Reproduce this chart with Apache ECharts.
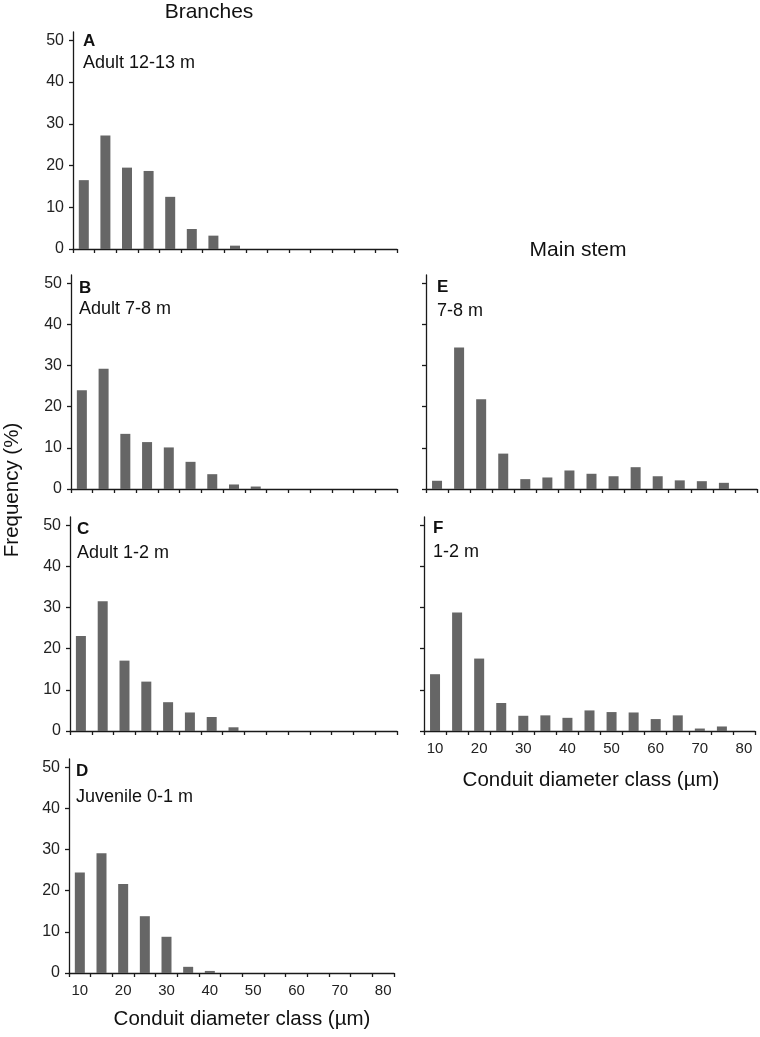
<!DOCTYPE html>
<html>
<head>
<meta charset="utf-8">
<script src="https://cdn.jsdelivr.net/npm/echarts@6/dist/echarts.min.js"></script>
<style>html,body{margin:0;padding:0;background:#fff}#c{width:760px;height:1037px}</style>
</head>
<body>
<div id="c"></div>
<script>
const categories = ['10','15','20','25','30','35','40','45','50','55','60','65','70','75','80'];
const yTickValues = [0,10,20,30,40,50];
const valuesA = [16.5,27.2,19.5,18.7,12.5,4.8,3.2,0.8,0,0,0,0,0,0,0];
const valuesB = [24.0,29.2,13.4,11.4,10.1,6.6,3.6,1.1,0.6,0,0,0,0,0,0];
const valuesC = [23.1,31.5,17.1,12.0,7.0,4.5,3.4,0.9,0,0,0,0,0,0,0];
const valuesD = [24.4,29.1,21.6,13.8,8.8,1.5,0.5,0,0,0,0,0,0,0,0];
const valuesE = [2.0,34.4,21.8,8.6,2.4,2.8,4.5,3.7,3.1,5.3,3.1,2.1,1.9,1.5,0];
const valuesF = [13.8,28.8,17.6,6.8,3.7,3.8,3.2,5.0,4.6,4.5,2.9,3.8,0.6,1.1,0];
const panelLetters = ['A','B','C','D','E','F'];
const panelLabels = ['Adult 12-13 m','Adult 7-8 m','Adult 1-2 m','Juvenile 0-1 m','7-8 m','1-2 m'];
const groupTitles = ['Branches','Main stem'];
const xAxisTitle = 'Conduit diameter class (µm)';
const yAxisTitle = 'Frequency (%)';

const FONT = '"Liberation Sans", Arial, Helvetica, sans-serif';
const series = [valuesA,valuesB,valuesC,valuesD,valuesE,valuesF];
// layout: [left, top, width, height]
const grids = [
  [73, 32, 324, 217],
  [71, 275, 326, 214],
  [70, 517, 327, 214],
  [69, 759, 325, 214],
  [426, 275, 331, 214],
  [424, 517, 331, 214]
];
const showXLabels = [false,false,false,true,false,true];
const showYLabels = [true,true,true,true,false,false];
const textPos = [
  [83,41,63],[79,288,309],[77,529,553],[76,771,797],[437,287,311],[433,528,552]
];

const chart = echarts.init(document.getElementById('c'), null, {renderer:'canvas'});
const axisColor = '#1a1a1a';
const option = {
  backgroundColor:'#fff',
  animation:false,
  grid: grids.map(g => ({left:g[0], top:g[1], width:g[2], height:g[3], containLabel:false})),
  xAxis: grids.map((g,i) => ({
    type:'category', gridIndex:i, data:categories, boundaryGap:true,
    axisLine:{show:true, lineStyle:{color:axisColor, width:1.3}},
    axisTick:{show:true, interval:0, length:4, lineStyle:{color:axisColor, width:1.3}},
    axisLabel:{show:showXLabels[i], interval:1, margin:10, fontSize:15, color:'#222', fontFamily:FONT},
    splitLine:{show:false}
  })),
  yAxis: grids.map((g,i) => ({
    type:'value', gridIndex:i, min:0, max:52, interval:10,
    axisLine:{show:true, lineStyle:{color:axisColor, width:1.3}},
    axisTick:{show:true, length:4, customValues:yTickValues, lineStyle:{color:axisColor, width:1.3}},
    axisLabel:{show:showYLabels[i], customValues:yTickValues, margin:9, fontSize:16, color:'#222', fontFamily:FONT},
    splitLine:{show:false}
  })),
  series: series.map((vals,i) => ({
    type:'bar', xAxisIndex:i, yAxisIndex:i, data:vals, barWidth:10,
    itemStyle:{color:'#666666'}, silent:true
  })),
  graphic: [
    {type:'text', left:'center', style:{text:groupTitles[0], x:209, y:12, fontSize:21, fontFamily:FONT, fill:'#111', align:'center', verticalAlign:'middle'}},
    {type:'text', style:{text:groupTitles[1], x:578, y:250, fontSize:21, fontFamily:FONT, fill:'#111', align:'center', verticalAlign:'middle'}},
    {type:'text', style:{text:xAxisTitle, x:242, y:1019, fontSize:20.5, fontFamily:FONT, fill:'#111', align:'center', verticalAlign:'middle'}},
    {type:'text', style:{text:xAxisTitle, x:591, y:780, fontSize:20.5, fontFamily:FONT, fill:'#111', align:'center', verticalAlign:'middle'}},
    {type:'text', x:12, y:490, rotation:Math.PI/2, style:{text:yAxisTitle, x:0, y:0, fontSize:20.5, fontFamily:FONT, fill:'#111', align:'center', verticalAlign:'middle'}}
  ].concat(textPos.map((p,i) => ({type:'text', style:{text:panelLetters[i], x:p[0], y:p[1], fontSize:17, fontWeight:'bold', fontFamily:FONT, fill:'#111', verticalAlign:'middle'}})))
   .concat(textPos.map((p,i) => ({type:'text', style:{text:panelLabels[i], x:p[0], y:p[2], fontSize:18, fontFamily:FONT, fill:'#111', verticalAlign:'middle'}})))
};
// fix first graphic (remove left:'center' positioning)
delete option.graphic[0].left;
chart.setOption(option);
</script>
</body>
</html>
